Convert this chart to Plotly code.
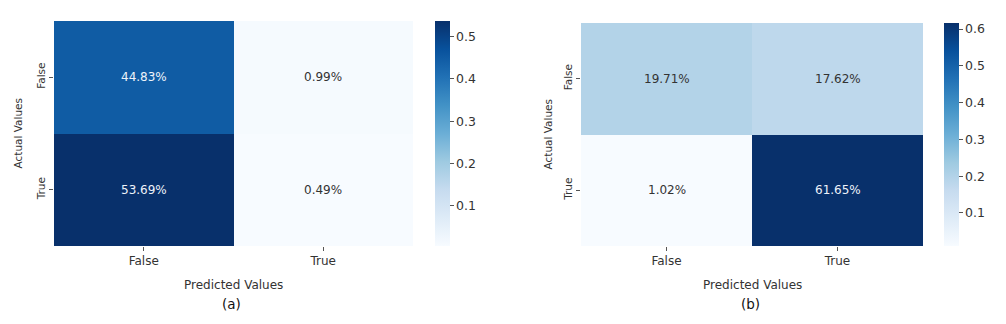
import plotly.graph_objects as go

# ── Data ────────────────────────────────────────────────────────
predicted = ["False", "True"]
actual = ["False", "True"]

# rows = actual, cols = predicted (fraction of all samples)
cm_a = [[0.4483, 0.0099],
        [0.5369, 0.0049]]
cm_b = [[0.1971, 0.1762],
        [0.0102, 0.6165]]

panel_labels = ["(a)", "(b)"]
cbar_ticks_a = [0.1, 0.2, 0.3, 0.4, 0.5]
cbar_ticks_b = [0.1, 0.2, 0.3, 0.4, 0.5, 0.6]

# page body has an 8px margin, so the figure is a bit smaller than the window
OFF = 8
W, H = 1006 - 2 * OFF, 324 - 2 * OFF
FONT = "DejaVu Sans"
TXT = "#333333"


def px(x):
    return (x - OFF) / W


def py(y):
    return 1 - (y - OFF) / H


fig = go.Figure()

panels = [
    dict(z=cm_a, xa="x", ya="y", dom_x=(54, 413), dom_y=(21, 246),
         cb_x=435, ticks=cbar_ticks_a, title_x=17, tick_lbl=panel_labels[0]),
    dict(z=cm_b, xa="x2", ya="y2", dom_x=(581, 923), dom_y=(23, 246),
         cb_x=944, ticks=cbar_ticks_b, title_x=547, tick_lbl=panel_labels[1]),
]

annotations = []
for i, p in enumerate(panels):
    z = p["z"]
    flat = [v for row in z for v in row]
    zmin, zmax = min(flat), max(flat)
    fig.add_trace(go.Heatmap(
        z=z, x=predicted, y=actual,
        xaxis=p["xa"], yaxis=p["ya"],
        colorscale="Blues", zmin=zmin, zmax=zmax,
        hoverongaps=False,
        colorbar=dict(
            x=px(p["cb_x"]), xanchor="left",
            y=py(p["dom_y"][0]), yanchor="top",
            lenmode="pixels", len=p["dom_y"][1] - p["dom_y"][0],
            thickness=15, outlinewidth=0,
            tickvals=p["ticks"], ticktext=[f"{t:.1f}" for t in p["ticks"]],
            ticks="outside", ticklen=4, tickcolor="#555555",
            tickfont=dict(family=FONT, size=12.5, color=TXT),
            xpad=0, ypad=0,
        ),
    ))
    # cell labels
    for r, a in enumerate(actual):
        for c, pr in enumerate(predicted):
            v = z[r][c]
            light = (v - zmin) / (zmax - zmin) > 0.6
            annotations.append(dict(
                x=pr, y=a, xref=p["xa"], yref=p["ya"],
                text=f"{v * 100:.2f}%", showarrow=False,
                xanchor="center", yanchor="middle",
                font=dict(family=FONT, size=12,
                          color="#eef3fa" if light else "#333333"),
            ))
    cx = (p["dom_x"][0] + p["dom_x"][1]) / 2
    annotations.append(dict(
        x=px(cx), y=py(285), xref="paper", yref="paper",
        xanchor="center", yanchor="middle",
        text="Predicted Values", showarrow=False,
        font=dict(family=FONT, size=12, color=TXT),
    ))
    annotations.append(dict(
        x=px(cx - 2), y=py(304), xref="paper", yref="paper",
        xanchor="center", yanchor="middle",
        text=p["tick_lbl"], showarrow=False,
        font=dict(family=FONT, size=13.5, color="#111111"),
    ))
    annotations.append(dict(
        x=px(p["title_x"]), y=py((p["dom_y"][0] + p["dom_y"][1]) / 2),
        xref="paper", yref="paper", textangle=-90,
        xanchor="center", yanchor="middle",
        text="Actual Values", showarrow=False,
        font=dict(family=FONT, size=10.5, color=TXT),
    ))

axis_common = dict(
    showgrid=False, zeroline=False, showline=False,
    ticks="outside", ticklen=4, tickcolor="#555555",
    tickfont=dict(family=FONT, size=12, color=TXT),
    automargin=False,
)

layout = dict(
    width=W, height=H,
    margin=dict(l=0, r=0, t=0, b=0, autoexpand=False),
    paper_bgcolor="white", plot_bgcolor="white",
    annotations=annotations,
)
for i, p in enumerate(panels):
    sfx = "" if i == 0 else "2"
    layout["xaxis" + sfx] = dict(
        axis_common, domain=[px(p["dom_x"][0]), px(p["dom_x"][1])],
        anchor="y" + sfx, ticklabelstandoff=0,
    )
    layout["yaxis" + sfx] = dict(
        axis_common, domain=[py(p["dom_y"][1]), py(p["dom_y"][0])],
        anchor="x" + sfx, autorange="reversed", tickangle=-90,
        tickfont=dict(family=FONT, size=10.5, color=TXT),
    )

fig.update_layout(**layout)
fig.write_html("out.html")
